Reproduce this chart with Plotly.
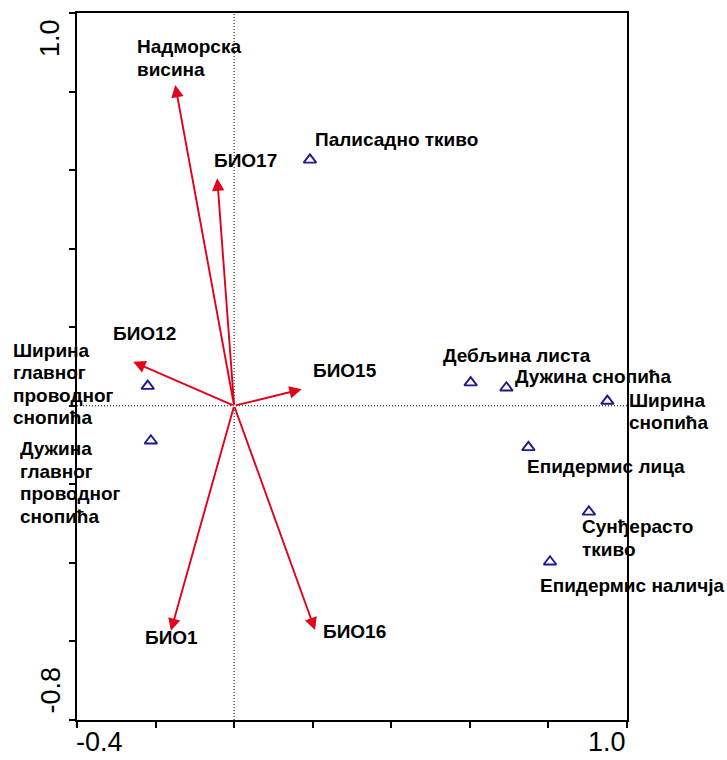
import plotly.graph_objects as go

# ---------------- data ----------------
# Traits (triangles)
trait_names = ["Палисадно ткиво", "Ширина<br>главног<br>проводног<br>снопића",
               "Дужина<br>главног<br>проводног<br>снопића", "Дебљина листа",
               "Дужина снопића", "Ширина<br>снопића", "Епидермис лица",
               "Сунђерасто<br>ткиво", "Епидермис наличја"]
trait_x = [0.193, -0.220, -0.212, 0.602, 0.693, 0.950, 0.749, 0.903, 0.804]
trait_y = [0.626, 0.050, -0.089, 0.059, 0.046, 0.012, -0.106, -0.270, -0.397]

# Environmental variables (arrows)
env_names = ["Надморска<br>висина", "БИО17", "БИО12", "БИО15", "БИО1", "БИО16"]
env_x = [-0.150, -0.043, -0.257, 0.172, -0.161, 0.206]
env_y = [0.817, 0.579, 0.112, 0.042, -0.573, -0.571]

# Axes
x_range = [-0.4, 1.0]
y_range = [-0.8, 1.0]
x_ticks = [-0.4, -0.2, 0.0, 0.2, 0.4, 0.6, 0.8, 1.0]
y_ticks = [-0.8, -0.6, -0.4, -0.2, 0.0, 0.2, 0.4, 0.6, 0.8, 1.0]
x_tick_text = ["-0.4", "1.0"]
y_tick_text = ["1.0", "-0.8"]

# ---------------- styles ----------------
ARROW_COLOR = "#E3001B"
TRI_COLOR = "#1E1A8C"
LABEL_FONT = dict(family="Liberation Sans, Arial, sans-serif", size=19, color="black")
TICK_FONT = dict(family="Liberation Sans, Arial, sans-serif", size=27, color="black")
LH = 22.5  # line spacing of multi-line labels, px

# label offsets in pixels (dx right, dy down to first-line centre)
trait_off = [(5, -20), (-135, -36), (-131, 8), (-28, -27), (9, -11),
             (22, -1), (-1, 19), (-7, 15), (-10, 24)]
env_off = [(-38, -38), (-3, -18), (-20, -28), (11, -19), (-26, 7), (8, 1)]

fig = go.Figure()

fig.add_trace(go.Scatter(
    x=trait_x, y=trait_y, mode="markers",
    marker=dict(symbol="triangle-up-open", size=11, color=TRI_COLOR,
                line=dict(width=1.9, color=TRI_COLOR)),
    showlegend=False, hoverinfo="skip"))

annotations = []


def label(x, y, text, off):
    dx, dy = off
    for i, line in enumerate(text.split("<br>")):
        annotations.append(dict(
            x=x, y=y, xref="x", yref="y", text="<b>" + line + "</b>",
            showarrow=False, xanchor="left", yanchor="middle", align="left",
            xshift=dx - 2, yshift=-(dy + i * LH), font=LABEL_FONT))


# arrows
for nx, ny in zip(env_x, env_y):
    annotations.append(dict(
        x=nx, y=ny, ax=0, ay=0, xref="x", yref="y", axref="x", ayref="y",
        text="", showarrow=True, arrowhead=2, arrowsize=1.3, arrowwidth=1.9,
        arrowcolor=ARROW_COLOR, standoff=0))

for name, nx, ny, off in zip(env_names, env_x, env_y, env_off):
    label(nx, ny, name, off)
for name, tx, ty, off in zip(trait_names, trait_x, trait_y, trait_off):
    label(tx, ty, name, off)

# tick labels placed inward like the original software
annotations.append(dict(x=x_ticks[0], y=0, xref="x", yref="paper", text=x_tick_text[0],
                        showarrow=False, xanchor="left", yanchor="top", yshift=-5,
                        xshift=-3, font=TICK_FONT))
annotations.append(dict(x=x_ticks[-1], y=0, xref="x", yref="paper", text=x_tick_text[1],
                        showarrow=False, xanchor="right", yanchor="top", yshift=-5,
                        xshift=1, font=TICK_FONT))
annotations.append(dict(x=0, y=y_ticks[-1], xref="paper", yref="y", text=y_tick_text[0],
                        showarrow=False, xanchor="right", yanchor="top", textangle=-90,
                        xshift=-10, yshift=-4, font=TICK_FONT))
annotations.append(dict(x=0, y=y_ticks[0], xref="paper", yref="y", text=y_tick_text[1],
                        showarrow=False, xanchor="right", yanchor="bottom", textangle=-90,
                        xshift=-10, yshift=4, font=TICK_FONT))

shapes = [
    dict(type="line", xref="x", yref="y", x0=0, x1=0, y0=y_range[0], y1=y_range[1],
         line=dict(color="black", width=1, dash="1px,2px"), layer="below"),
    dict(type="line", xref="x", yref="y", x0=x_range[0], x1=x_range[1], y0=0, y1=0,
         line=dict(color="black", width=1, dash="1px,2px"), layer="below"),
]

axis_common = dict(showgrid=False, zeroline=False, showline=True, linecolor="black",
                   linewidth=2, mirror=True, ticks="outside", ticklen=6, tickwidth=1.5,
                   tickcolor="black", showticklabels=False)

fig.update_layout(
    width=727, height=760,
    margin=dict(l=77, r=100, t=13, b=40, pad=0),
    paper_bgcolor="white", plot_bgcolor="white",
    xaxis=dict(range=x_range, tickvals=x_ticks, **axis_common),
    yaxis=dict(range=y_range, tickvals=y_ticks, **axis_common),
    annotations=annotations, shapes=shapes,
)

fig.write_html("out.html")
